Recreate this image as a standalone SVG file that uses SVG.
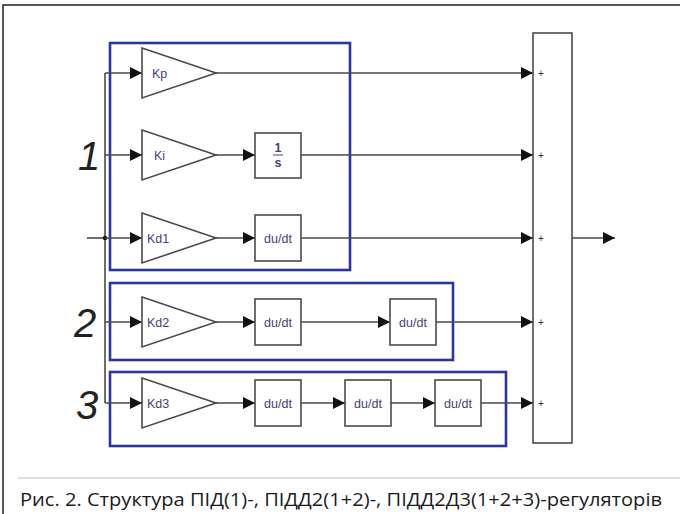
<svg xmlns="http://www.w3.org/2000/svg" width="680" height="514" viewBox="0 0 680 514">
  <style>
    .wire { fill: none; stroke: #4a4a4a; stroke-width: 1.6; }
    .blk { fill: #fff; stroke: #4a4a4a; stroke-width: 1.6; }
    .grp { fill: none; stroke: #2a35a5; stroke-width: 2.6; }
    .lbl { font-family: "Liberation Sans", Arial, sans-serif; font-size: 12.5px; fill: #4a3c7c; }
    .num { font-family: "Liberation Sans", Arial, sans-serif; font-style: italic; font-size: 40px; fill: #222; }
    .plus { font-family: "Liberation Sans", Arial, sans-serif; font-size: 10px; fill: #333; }
    .cap { font-family: "Open Sans", "Noto Sans", sans-serif; font-size: 19px; fill: #1a1a1a; }
  </style>
  <defs>
    <marker id="ah" viewBox="0 0 10 10" refX="10" refY="5" markerWidth="14" markerHeight="12" markerUnits="userSpaceOnUse" orient="auto">
      <path d="M0,0 L10,5 L0,10 z" fill="#111"/>
    </marker>
  </defs>

  <rect width="680" height="514" fill="#fff"/>
  <!-- page frame -->
  <path d="M3,514 V5 H680" fill="none" stroke="#222" stroke-width="1.5"/>
  <line x1="18" y1="478" x2="680" y2="478" stroke="#bdbdbd" stroke-width="1.2"/>

  <!-- group frames -->
  <rect id="group1" class="grp" x="110" y="43" width="240" height="227"/>
  <rect id="group2" class="grp" x="110" y="283" width="343" height="77"/>
  <rect id="group3" class="grp" x="110" y="372" width="396" height="74"/>

  <g id="connectors">
    <line class="wire" x1="87" y1="238" x2="105" y2="238"/>
    <line class="wire" x1="105" y1="73" x2="105" y2="403"/>
    <circle cx="105" cy="238" r="2.2" fill="#111"/>
    <line class="wire" x1="105" y1="73" x2="142" y2="73" marker-end="url(#ah)"/>
    <line class="wire" x1="105" y1="155" x2="142" y2="155" marker-end="url(#ah)"/>
    <line class="wire" x1="105" y1="238" x2="142" y2="238" marker-end="url(#ah)"/>
    <line class="wire" x1="105" y1="322" x2="142" y2="322" marker-end="url(#ah)"/>
    <line class="wire" x1="105" y1="403" x2="142" y2="403" marker-end="url(#ah)"/>
    <!-- row 1: Kp -->
    <line class="wire" x1="216" y1="73" x2="533" y2="73" marker-end="url(#ah)"/>
    <!-- row 2: Ki -> 1/s -->
    <line class="wire" x1="216" y1="155" x2="255" y2="155" marker-end="url(#ah)"/>
    <line class="wire" x1="301" y1="155" x2="533" y2="155" marker-end="url(#ah)"/>
    <!-- row 3: Kd1 -> du/dt -->
    <line class="wire" x1="216" y1="238" x2="255" y2="238" marker-end="url(#ah)"/>
    <line class="wire" x1="301" y1="238" x2="533" y2="238" marker-end="url(#ah)"/>
    <!-- row 4: Kd2 -> du/dt -> du/dt -->
    <line class="wire" x1="216" y1="322" x2="255" y2="322" marker-end="url(#ah)"/>
    <line class="wire" x1="301" y1="322" x2="390" y2="322" marker-end="url(#ah)"/>
    <line class="wire" x1="436" y1="322" x2="533" y2="322" marker-end="url(#ah)"/>
    <!-- row 5: Kd3 -> du/dt x3 -->
    <line class="wire" x1="216" y1="403" x2="255" y2="403" marker-end="url(#ah)"/>
    <line class="wire" x1="301" y1="403" x2="345" y2="403" marker-end="url(#ah)"/>
    <line class="wire" x1="391" y1="403" x2="435" y2="403" marker-end="url(#ah)"/>
    <line class="wire" x1="481" y1="403" x2="533" y2="403" marker-end="url(#ah)"/>
    <!-- output -->
    <line class="wire" x1="572" y1="238" x2="615" y2="238" marker-end="url(#ah)"/>
  </g>

  <!-- gains -->
  <g id="Kp"><path class="blk" d="M142,48 L216,73 L142,98 z"/><text class="lbl" x="152" y="77.5">Kp</text></g>
  <g id="Ki"><path class="blk" d="M142,130 L216,155 L142,180 z"/><text class="lbl" x="154" y="159.5">Ki</text></g>
  <g id="Kd1"><path class="blk" d="M142,213 L216,238 L142,263 z"/><text class="lbl" x="147" y="242.5">Kd1</text></g>
  <g id="Kd2"><path class="blk" d="M142,297 L216,322 L142,347 z"/><text class="lbl" x="147" y="326.5">Kd2</text></g>
  <g id="Kd3"><path class="blk" d="M142,378 L216,403 L142,428 z"/><text class="lbl" x="147" y="407.5">Kd3</text></g>

  <!-- integrator -->
  <g id="integ">
    <rect class="blk" x="255" y="133" width="46" height="45"/>
    <text class="lbl" x="278" y="152" text-anchor="middle" font-weight="bold" font-size="11">1</text>
    <line x1="273" y1="155" x2="283" y2="155" stroke="#4a3c7c" stroke-width="1"/>
    <text class="lbl" x="278" y="167" text-anchor="middle" font-weight="bold" font-size="11">s</text>
  </g>

  <!-- derivatives -->
  <g id="d1"><rect class="blk" x="255" y="215" width="46" height="46"/><text class="lbl" x="278" y="242.5" text-anchor="middle">du/dt</text></g>
  <g id="d2a"><rect class="blk" x="255" y="299" width="46" height="46"/><text class="lbl" x="278" y="326.5" text-anchor="middle">du/dt</text></g>
  <g id="d2b"><rect class="blk" x="390" y="299" width="46" height="46"/><text class="lbl" x="413" y="326.5" text-anchor="middle">du/dt</text></g>
  <g id="d3a"><rect class="blk" x="255" y="380" width="46" height="46"/><text class="lbl" x="278" y="407.5" text-anchor="middle">du/dt</text></g>
  <g id="d3b"><rect class="blk" x="345" y="380" width="46" height="46"/><text class="lbl" x="368" y="407.5" text-anchor="middle">du/dt</text></g>
  <g id="d3c"><rect class="blk" x="435" y="380" width="46" height="46"/><text class="lbl" x="458" y="407.5" text-anchor="middle">du/dt</text></g>

  <!-- summing block -->
  <g id="sum">
    <rect class="blk" x="533" y="33" width="39" height="410"/>
    <text class="plus" x="541" y="76.5" text-anchor="middle">+</text>
    <text class="plus" x="541" y="158.5" text-anchor="middle">+</text>
    <text class="plus" x="541" y="241.5" text-anchor="middle">+</text>
    <text class="plus" x="541" y="325.5" text-anchor="middle">+</text>
    <text class="plus" x="541" y="406.5" text-anchor="middle">+</text>
  </g>

  <!-- group numbers -->
  <text class="num" x="78" y="170">1</text>
  <text class="num" x="74" y="337">2</text>
  <text class="num" x="76" y="419">3</text>

  <text class="cap" x="20" y="506" textLength="642" lengthAdjust="spacingAndGlyphs">Рис. 2. Структура ПІД(1)-, ПІДД2(1+2)-, ПІДД2Д3(1+2+3)-регуляторів</text>
</svg>
